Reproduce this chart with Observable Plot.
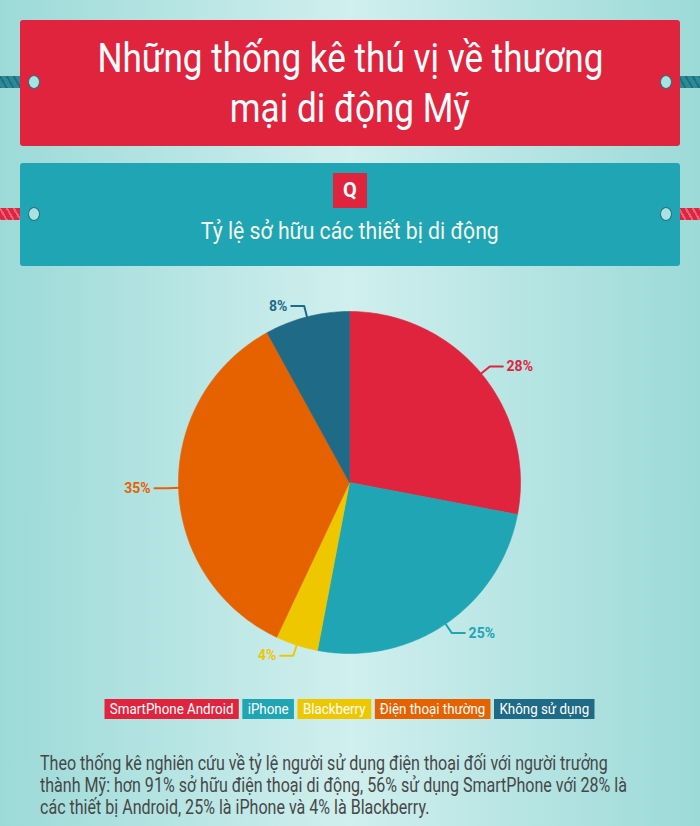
<!DOCTYPE html>
<html>
<head>
<meta charset="utf-8">
<script src="https://cdn.jsdelivr.net/npm/d3@7"></script>
<script src="https://cdn.jsdelivr.net/npm/@observablehq/plot@0.6"></script>
<style>
  html, body { margin: 0; padding: 0; }
  body {
    width: 700px; height: 826px; overflow: hidden; position: relative;
    background: linear-gradient(90deg, #9cdad8 0%, #d0efee 50%, #9cdad8 100%);
    font-family: Roboto, "Noto Sans", sans-serif;
  }
  .box { position: absolute; left: 20px; width: 660px; border-radius: 3px; }
  .title { top: 20px; height: 126px; background: #e0243e; }
  .sub { top: 163px; height: 103px; background: #20a5b5; }
  .tline { position: absolute; left: 0; width: 700px; text-align: center; white-space: nowrap; }
  .tline span { display: inline-block; transform-origin: center; }
  .ttl { color: #fff; font-size: 40px; line-height: 50px; }
  .stl { color: #f3f6ea; font-size: 24px; line-height: 30px; }
  .q { position: absolute; left: 333px; top: 173px; width: 34px; height: 35px; background: #e0243e;
       color: #fff; font-weight: 700; font-size: 20px; line-height: 35px; text-align: center; }
  .rope { position: absolute; height: 12px; border-radius: 6px; }
  .ring { position: absolute; width: 10px; height: 12px; border-radius: 50%; border: 1.5px solid #2b6f78; background: #a8e2e2; }
  #chart { position: absolute; left: 0; top: 280px; }
  #legend { position: absolute; top: 699px; left: 0; width: 700px; display: flex; justify-content: center; }
  #legend .inner { display: flex; gap: 4px; transform-origin: center; }
  #legend .item { color: #fff; font-size: 15px; line-height: 20px; height: 20px; padding: 0 6px; white-space: nowrap; }
  #caption { position: absolute; left: 40px; top: 752px; color: #474747; font-size: 20px; line-height: 22px; }
  #caption div { white-space: nowrap; transform-origin: left; }
</style>
</head>
<body>
<div class="rope" style="left:-6px; top:76px; width:40px; background: repeating-linear-gradient(60deg, #2a8a98 0 4px, #1f6f7c 4px 6px);"></div>
<div class="rope" style="left:666px; top:76px; width:40px; background: repeating-linear-gradient(60deg, #2a8a98 0 4px, #1f6f7c 4px 6px);"></div>
<div class="rope" style="left:-6px; top:208px; width:40px; background: repeating-linear-gradient(60deg, #dc2740 0 4px, #f0607a 4px 6px);"></div>
<div class="rope" style="left:666px; top:208px; width:40px; background: repeating-linear-gradient(60deg, #dc2740 0 4px, #f0607a 4px 6px);"></div>

<div class="box title"></div>
<div class="ring" style="left:28px; top:75px;"></div>
<div class="ring" style="left:660px; top:75px;"></div>
<div class="tline ttl" style="top:34px;"><span id="t1">Những thống kê thú vị về thương</span></div>
<div class="tline ttl" style="top:84px;"><span id="t2">mại di động Mỹ</span></div>

<div class="box sub"></div>
<div class="ring" style="left:28px; top:207px;"></div>
<div class="ring" style="left:660px; top:207px;"></div>
<div class="q">Q</div>
<div class="tline stl" style="top:216px;"><span id="s1">Tỷ lệ sở hữu các thiết bị di động</span></div>

<div id="chart"></div>
<div id="legend"><div class="inner" id="legendInner"></div></div>
<div id="caption"></div>

<script>
// ---- data ----
const categories = ["SmartPhone Android", "iPhone", "Blackberry", "Điện thoại thường", "Không sử dụng"];
const values = [28, 25, 4, 35, 8];
const palette = ["#e0243e", "#20a5b5", "#efc700", "#e66100", "#1f6a86"];
const captionLines = [
  "Theo thống kê nghiên cứu về tỷ lệ người sử dụng điện thoại đối với người trưởng",
  "thành Mỹ: hơn 91% sở hữu điện thoại di động, 56% sử dụng SmartPhone với 28% là",
  "các thiết bị Android, 25% là iPhone và 4% là Blackberry."
];

// ---- derived geometry (from values via d3.pie) ----
const arcs = d3.pie().sort(null).value(d => d)(values);
const wedges = [];
const leaders = [];
const labels = [];
arcs.forEach((a, i) => {
  const cat = categories[i];
  const n = Math.max(2, Math.ceil((a.endAngle - a.startAngle) / (Math.PI / 180)));
  wedges.push({cat, x: 0, y: 0});
  for (let k = 0; k <= n; k++) {
    const t = a.startAngle + (a.endAngle - a.startAngle) * k / n;
    wedges.push({cat, x: Math.sin(t), y: Math.cos(t)});
  }
  wedges.push({cat, x: 0, y: 0});
  const m = (a.startAngle + a.endAngle) / 2;
  const sx = Math.sin(m), sy = Math.cos(m);
  const side = sx >= 0 ? 1 : -1;
  const ex = 1.065 * sx, ey = 1.065 * sy;
  leaders.push({cat, x: 0.99 * sx, y: 0.99 * sy});
  leaders.push({cat, x: ex, y: ey});
  leaders.push({cat, x: ex + side * 0.076, y: ey});
  labels.push({cat, side, x: ex + side * 0.098, y: ey, text: values[i] + "%"});
});

const chart = Plot.plot({
  width: 700,
  height: 410,
  margin: 0,
  style: {background: "transparent", overflow: "visible"},
  x: {domain: [-1, 1], range: [178, 520], axis: null},
  y: {domain: [-1, 1], range: [373, 31], axis: null},
  color: {domain: categories, range: palette},
  marks: [
    Plot.line(wedges, {x: "x", y: "y", z: "cat", fill: "cat", stroke: "cat", strokeWidth: 0.6, curve: "linear"}),
    Plot.line(leaders, {x: "x", y: "y", z: "cat", stroke: "cat", strokeWidth: 2, curve: "linear"}),
    Plot.text(labels.filter(d => d.side > 0), {x: "x", y: "y", text: "text", fill: "cat", textAnchor: "start",
      fontSize: 14, fontWeight: 700, fontFamily: "Roboto"}),
    Plot.text(labels.filter(d => d.side < 0), {x: "x", y: "y", text: "text", fill: "cat", textAnchor: "end",
      fontSize: 14, fontWeight: 700, fontFamily: "Roboto"})
  ]
});
document.getElementById("chart").appendChild(chart);

// ---- legend ----
const li = document.getElementById("legendInner");
categories.forEach((c, i) => {
  const d = document.createElement("div");
  d.className = "item";
  d.style.background = palette[i];
  d.textContent = c;
  li.appendChild(d);
});

// ---- caption ----
const cap = document.getElementById("caption");
captionLines.forEach(t => { const d = document.createElement("div"); d.textContent = t; cap.appendChild(d); });

// ---- condensed look: horizontal scaling to reference widths ----
function scaleTo(el, target) { const w = el.getBoundingClientRect().width; return target / w; }
const kt = scaleTo(document.getElementById("t1"), 506);
document.getElementById("t1").style.transform = `scaleX(${kt})`;
document.getElementById("t2").style.transform = `scaleX(${kt})`;
const ks = scaleTo(document.getElementById("s1"), 298);
document.getElementById("s1").style.transform = `scaleX(${ks})`;
const kl = scaleTo(li, 490);
li.style.transform = `scaleX(${kl})`;
const capDivs = cap.querySelectorAll("div");
const kc = 587 / capDivs[0].getBoundingClientRect().width;
capDivs.forEach(d => d.style.transform = `scaleX(${kc})`);
</script>
</body>
</html>
